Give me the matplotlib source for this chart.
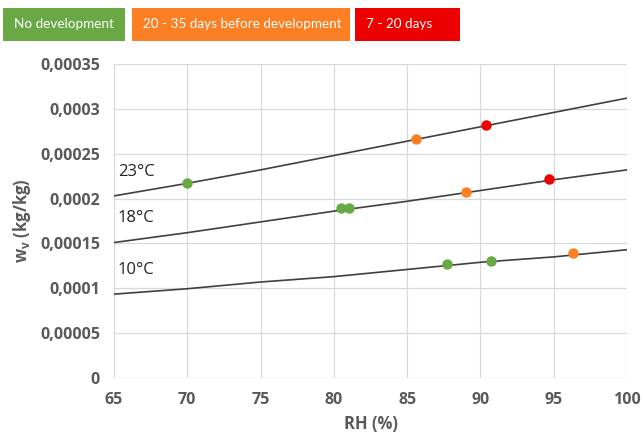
import numpy as np
import matplotlib.pyplot as plt
from matplotlib.patches import Rectangle
from matplotlib.ticker import FuncFormatter, MultipleLocator

# curvas de umidade
rh = [65, 70, 75, 80, 85, 90, 95, 100]
w_23 = [0.000203, 0.000217, 0.000232, 0.000248, 0.000264, 0.000280, 0.000296, 0.000312]
w_18 = [0.000151, 0.000162, 0.000174, 0.000186, 0.000197, 0.000209, 0.000221, 0.000232]
w_10 = [0.0000935, 0.0000995, 0.000107, 0.000113, 0.000121, 0.000129, 0.000135, 0.000143]
curve_labels = ['23°C', '18°C', '10°C']

# pontos observados
green_x = [70.0, 80.5, 81.0, 87.7, 90.7]
green_y = [0.0002177, 0.0001895, 0.0001900, 0.000127, 0.000130]
orange_x = [85.6, 89.0, 96.3]
orange_y = [0.0002667, 0.0002077, 0.000139]
red_x = [90.4, 94.7]
red_y = [0.000282, 0.0002215]

legend_labels = ['No development', '20 - 35 days before development', '7 - 20 days']
c_green = '#6aa846'
c_orange = '#fd7f23'
c_red = '#ec0000'
grey = '#595959'

plt.rcParams['font.family'] = ['Open Sans', 'DejaVu Sans']

fig = plt.figure(figsize=(6.43, 4.40), dpi=100)
ax = fig.add_axes([0.1773, 0.1409, 0.7978, 0.7136])

for w in (w_23, w_18, w_10):
    ax.plot(rh, w, color='#404040', lw=1.2, zorder=2)

ax.plot(green_x, green_y, 'o', color=c_green, ms=6.5, zorder=3)
ax.plot(orange_x, orange_y, 'o', color=c_orange, ms=6.5, zorder=3)
ax.plot(red_x, red_y, 'o', color=c_red, ms=6.5, zorder=3)

# rótulos das curvas
for lab, w in zip(curve_labels, (w_23, w_18, w_10)):
    ax.text(65.25, w[0] + 0.000027, lab, fontsize=12, color='#222222', va='center', ha='left')

ax.set_xlim(65, 100)
ax.set_ylim(0, 0.00035)
ax.xaxis.set_major_locator(MultipleLocator(5))
ax.yaxis.set_major_locator(MultipleLocator(0.00005))

def fmt(v, pos):
    if abs(v) < 1e-12:
        return '0'
    return ('%.5f' % v).rstrip('0').replace('.', ',')

ax.yaxis.set_major_formatter(FuncFormatter(fmt))
ax.grid(True, color='#d9d9d9', lw=0.9, zorder=0)
for s in ax.spines.values():
    s.set_visible(False)
ax.tick_params(length=0, labelsize=11.5, labelcolor=grey, pad=10)
for t in ax.get_xticklabels() + ax.get_yticklabels():
    t.set_fontweight('bold')

ax.set_xlabel('RH (%)', fontsize=12, color=grey, fontweight='bold', labelpad=5)
ax.set_ylabel('w$_\\mathregular{v}$ (kg/kg)', fontsize=12, color=grey, fontweight='bold', labelpad=5)

# caixas da legenda
W, H = 643.0, 440.0
boxes = [(3, 125, c_green), (132, 350, c_orange), (355, 460, c_red)]
for (x0, x1, c), lab in zip(boxes, legend_labels):
    fig.add_artist(Rectangle((x0 / W, 1 - 41 / H), (x1 - x0) / W, 33 / H,
                             transform=fig.transFigure, facecolor=c, edgecolor='none'))
    fig.text((x0 + 11) / W, 1 - 24 / H, lab, color='white', fontsize=9.7,
             family=['Lato', 'DejaVu Sans'], va='center', ha='left')

fig.savefig('out.png', dpi=100)
